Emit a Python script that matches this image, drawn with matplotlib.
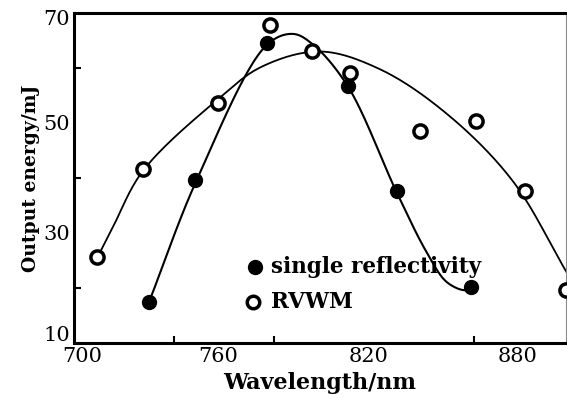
import numpy as np
import matplotlib
matplotlib.use("Agg")
import matplotlib.pyplot as plt
import matplotlib.transforms as mtransforms

# Measured data points
single_x = [730, 748.5, 777.2, 809.6, 829.2, 858.8]
single_y = [17.4, 39.7, 64.5, 56.7, 37.6, 20.1]
rvwm_x = [709.2, 727.6, 757.6, 778.4, 795.2, 810.4, 838.4, 860.8, 880.4, 897.0]
rvwm_y = [25.6, 41.7, 53.7, 67.8, 63.1, 59.1, 48.6, 50.4, 37.7, 19.6]

# Hand-drawn curve nodes
single_curve_x = [730, 749.2, 777.2, 787.6, 795.6, 809.6, 829.2, 841.2, 849.2, 856.4, 858.8]
single_curve_y = [17.4, 39.7, 64.2, 66.2, 64.3, 56.7, 37.4, 26.5, 21.1, 19.6, 20.1]
rvwm_curve_x = [709.2, 715.6, 727.6, 757.6, 775.0, 798.4, 822.4, 849.2, 875.6, 897.2]
rvwm_curve_y = [25.4, 31.1, 41.3, 54.3, 60.2, 63.0, 59.8, 51.7, 39.5, 22.9]

x_tick_labels = [700, 760, 820, 880]
x_minor = [740, 780, 820, 860]
y_tick_labels = [10, 30, 50, 70]
y_minor = [20, 40, 60]

SX, SY = 2.5, 5.52  # approx px per unit, used only for spline parameterisation


def centripetal(xs, ys, n=30):
    p = np.column_stack([np.asarray(xs) * SX, np.asarray(ys) * SY]).astype(float)
    p = np.vstack([2 * p[0] - p[1], p, 2 * p[-1] - p[-2]])
    out = []
    for i in range(1, len(p) - 2):
        P0, P1, P2, P3 = p[i - 1], p[i], p[i + 1], p[i + 2]
        t0 = 0.0
        t1 = t0 + np.linalg.norm(P1 - P0) ** 0.5
        t2 = t1 + np.linalg.norm(P2 - P1) ** 0.5
        t3 = t2 + np.linalg.norm(P3 - P2) ** 0.5
        t = np.linspace(t1, t2, n, endpoint=False)[:, None]
        A1 = (t1 - t) / (t1 - t0) * P0 + (t - t0) / (t1 - t0) * P1
        A2 = (t2 - t) / (t2 - t1) * P1 + (t - t1) / (t2 - t1) * P2
        A3 = (t3 - t) / (t3 - t2) * P2 + (t - t2) / (t3 - t2) * P3
        B1 = (t2 - t) / (t2 - t0) * A1 + (t - t0) / (t2 - t0) * A2
        B2 = (t3 - t) / (t3 - t1) * A2 + (t - t1) / (t3 - t1) * A3
        C = (t2 - t) / (t2 - t1) * B1 + (t - t1) / (t2 - t1) * B2
        out.append(C)
    out.append(p[-2][None, :])
    out = np.vstack(out)
    return out[:, 0] / SX, out[:, 1] / SY


plt.rcParams['font.family'] = ['DejaVu Serif']
fig = plt.figure(figsize=(5.67, 3.99), dpi=100)
ax = fig.add_axes([74 / 567, 1 - 343 / 399, 492 / 567, (343 - 13) / 399])

cx, cy = centripetal(single_curve_x, single_curve_y)
ax.plot(cx, cy, color='black', lw=1.5, zorder=2)
cx, cy = centripetal(rvwm_curve_x, rvwm_curve_y)
ax.plot(cx, cy, color='black', lw=1.3, zorder=2)

ax.plot(single_x, single_y, 'o', ms=10, mfc='black', mec='black', zorder=3, clip_on=False)
ax.plot(rvwm_x, rvwm_y, 'o', ms=9.5, mfc='white', mec='black', mew=2.5, zorder=3, clip_on=False)

# legend drawn as markers + text
ax.plot([772.4], [23.8], 'o', ms=10, mfc='black', mec='black')
ax.plot([771.6], [17.5], 'o', ms=9, mfc='white', mec='black', mew=2.5)
ax.text(779, 23.8, 'single reflectivity', fontsize=15.5, fontweight='bold', va='center', ha='left')
ax.text(779, 17.5, 'RVWM', fontsize=15.5, fontweight='bold', va='center', ha='left')

ax.set_xlim(700, 897)
ax.set_ylim(10, 70)
ax.set_xticks(x_tick_labels)
ax.set_xticklabels([str(v) for v in x_tick_labels], fontsize=15)
ax.set_xticks(x_minor, minor=True)
ax.set_yticks(y_tick_labels)
ax.set_yticklabels([str(v) for v in y_tick_labels], fontsize=15)
ax.set_yticks(y_minor, minor=True)
ax.tick_params(which='major', length=0, pad=3)
ax.tick_params(which='minor', direction='in', length=5, width=1.5)

# nudge edge tick labels as in the reference
ylabels = ax.get_yticklabels()
ylabels[0].set_transform(ylabels[0].get_transform() + mtransforms.ScaledTranslation(0, 7 / 72, fig.dpi_scale_trans))
ylabels[-1].set_transform(ylabels[-1].get_transform() + mtransforms.ScaledTranslation(0, -3 / 72, fig.dpi_scale_trans))
xlabels = ax.get_xticklabels()
xlabels[0].set_transform(xlabels[0].get_transform() + mtransforms.ScaledTranslation(6 / 72, 0, fig.dpi_scale_trans))
for lab in xlabels[1:]:
    lab.set_transform(lab.get_transform() + mtransforms.ScaledTranslation(-4 / 72, 0, fig.dpi_scale_trans))

for s in ['bottom', 'top', 'left']:
    ax.spines[s].set_linewidth(2.2)
ax.spines['right'].set_linewidth(0.8)
ax.spines['right'].set_color('#888888')

ax.set_xlabel('Wavelength/nm', fontsize=16, fontweight='bold', labelpad=4)
ax.set_ylabel('Output energy/mJ', fontsize=13.5, fontweight='bold', labelpad=2)

fig.savefig('out.png', dpi=100)
